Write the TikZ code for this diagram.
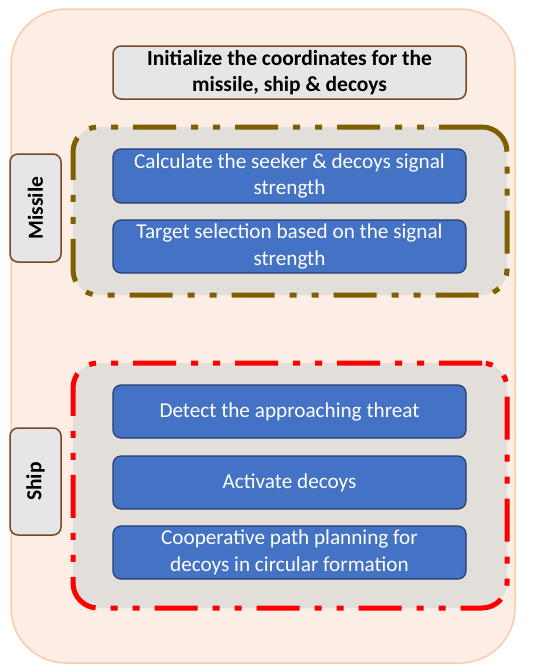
\documentclass[tikz,border=0pt]{standalone}
\usepackage{fontspec}
\setmainfont{Carlito}
\definecolor{outerfill}{RGB}{252,238,229}
\definecolor{outerdraw}{RGB}{248,203,173}
\definecolor{greyfill}{RGB}{231,230,230}
\definecolor{grpfill}{RGB}{226,222,218}
\definecolor{brownline}{RGB}{127,96,0}
\definecolor{labeldraw}{RGB}{120,70,35}
\definecolor{bluefill}{RGB}{68,114,196}
\definecolor{bluedraw}{RGB}{40,60,110}
\definecolor{redline}{RGB}{255,0,0}
\begin{document}
\begin{tikzpicture}[x=1pt,y=-1pt,
  outerbox/.style={draw=outerdraw,fill=outerfill,line width=1.5pt,rounded corners=55pt,minimum width=504pt,minimum height=654pt},
  greybox/.style={draw=labeldraw,fill=greyfill,line width=1.5pt,rounded corners=8pt,align=center,font=\fontsize{21.5}{26.5}\selectfont\bfseries,inner sep=0pt},
  group/.style={fill=grpfill,line width=5pt,rounded corners=25pt,dash pattern=on 43pt off 15pt on 7pt off 15pt on 7pt off 15pt,minimum width=434pt},
  bluebox/.style={draw=bluedraw,fill=bluefill,line width=1.2pt,rounded corners=8pt,text=white,align=center,font=\fontsize{21.2}{26.5}\selectfont,minimum width=353pt,minimum height=53pt,inner sep=0pt}
]
\useasboundingbox (0,0) rectangle (550,672);
\node[outerbox] (outer) at (263,336) {};
\node[greybox,minimum width=353pt,minimum height=53pt] (init) at (289.5,72.5) {Initialize the coordinates for the\\missile, ship \& decoys};
\node[group,draw=brownline,minimum height=168pt] (missileGrp) at (290,211) {};
\node[group,draw=redline,minimum height=245pt] (shipGrp) at (290,485.5) {};
\node[greybox,minimum width=51pt,minimum height=108pt] (missileLbl) at (35.5,208) {};
\node[rotate=90,font=\fontsize{21.5}{26}\selectfont\bfseries] (missileTxt) at (missileLbl.center) {Missile};
\node[greybox,minimum width=51pt,minimum height=107pt] (shipLbl) at (35.5,481.5) {};
\node[rotate=90,font=\fontsize{21.5}{26}\selectfont\bfseries] (shipTxt) at (shipLbl.center) {Ship};
\node[bluebox,minimum height=54pt] (calc) at (289.5,176) {Calculate the seeker \& decoys signal\\strength};
\node[bluebox] (target) at (289.5,246.5) {Target selection based on the signal\\strength};
\node[bluebox] (detect) at (289.5,411.5) {Detect the approaching threat};
\node[bluebox] (activate) at (289.5,482.5) {Activate decoys};
\node[bluebox] (coop) at (289.5,552.5) {Cooperative path planning for\\decoys in circular formation};
\end{tikzpicture}
\end{document}
